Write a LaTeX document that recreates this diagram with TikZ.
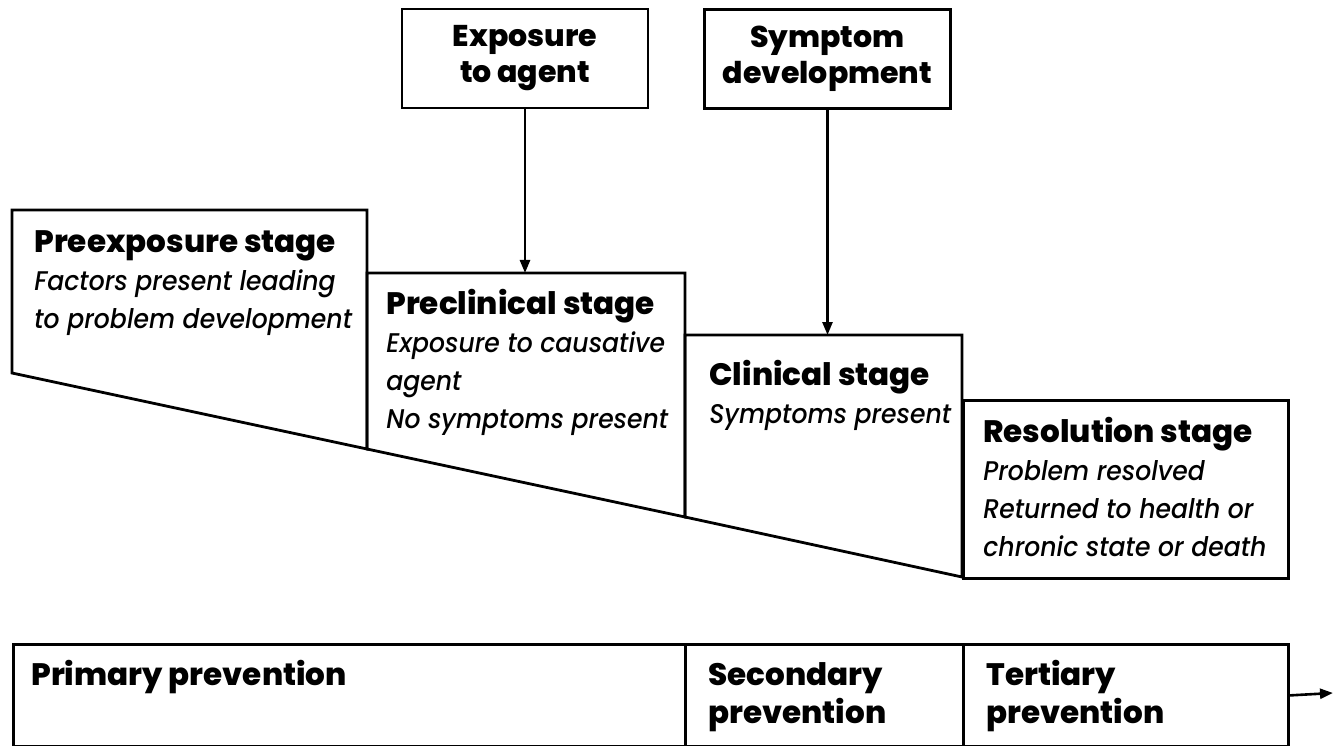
\documentclass[tikz,border=0pt]{standalone}
\usepackage{fontspec}
\setmainfont{Poppins}[BoldFont={Poppins ExtraBold},ItalicFont={Poppins Medium Italic},ItalicFeatures={FakeStretch=0.93}]
\usetikzlibrary{arrows.meta}
\newcommand{\mylines}[2][l]{\begin{tabular}[t]{@{}#1@{}}#2\end{tabular}}
\newcommand{\bld}[1]{{\fontsize{31}{38}\selectfont\bfseries #1}}
\newcommand{\itl}[1]{{\fontsize{27}{38}\selectfont\itshape #1}}
\begin{document}
\begin{tikzpicture}[x=1pt,y=-1pt,line width=2.8pt,
  box/.style={draw,line width=2.8pt,inner sep=0pt},
  topbox/.style={box,minimum width=246pt,minimum height=99pt,align=center,
     font=\bfseries\fontsize{30}{36}\selectfont},
  lbl/.style={anchor=base west,inner sep=0pt,font=\fontsize{28}{38}\selectfont},
  arr/.style={-{Triangle[length=13pt,width=10pt]},line width=2.6pt}]
\useasboundingbox (0,0) rectangle (1334,746);
% top boxes
\node[topbox] (expo) at (525,58.5) {Exposure\\to agent};
\node[topbox] (symp) at (827.5,59) {Symptom\\development};
% diagonal points
\coordinate (d0) at (12,373);
\coordinate (d1) at (367,449);
\coordinate (d2) at (685,517);
\coordinate (d3) at (962,577);
% stage shapes
\draw (d0) -- (12,210) -- (367,210) -- (d1) -- cycle;
\draw (d1) -- (367,273) -- (685,273) -- (d2) -- cycle;
\draw (d2) -- (685,335) -- (962,335) -- (d3) -- cycle;
\node[box,anchor=north west,minimum width=325pt,minimum height=178pt] (reso) at (962,399) {};
% arrow targets
\coordinate (pretop) at (525,273);
\coordinate (clintop) at (827.5,335);
\draw[arr] (expo.south) -- (pretop);
\draw[arr] (symp.south) -- (clintop);
% stage texts
\node[lbl] (tpre) at (33,253) {\mylines{\bld{Preexposure stage}\\\itl{Factors present leading}\\\itl{to problem development}}};
\node[lbl] (tprecl) at (385,315) {\mylines{\bld{Preclinical stage}\\\itl{Exposure to causative}\\\itl{agent}\\\itl{No symptoms present}}};
\node[lbl] (tclin) at (708,385) {\mylines{\bld{Clinical stage}\\\itl{Symptoms present}}};
\node[lbl] (treso) at (982,442) {\mylines{\bld{Resolution stage}\\\itl{Problem resolved}\\\itl{Returned to health or}\\\itl{chronic state or death}}};
% prevention row
\node[box,anchor=north west,minimum width=672pt,minimum height=102pt] (prim) at (12,643) {};
\node[box,anchor=north west,minimum width=278pt,minimum height=102pt] (sec) at (684,643) {};
\node[box,anchor=north west,minimum width=325pt,minimum height=102pt] (tert) at (962,643) {};
\coordinate (tipend) at (1333,693);
\draw[arr] (tert.east) -- (tipend);
\node[lbl] (tprim) at (30,685) {\bld{Primary prevention}};
\node[lbl] (tsec) at (707,685) {\mylines{\bld{Secondary}\\\bld{prevention}}};
\node[lbl] (tter) at (985,685) {\mylines{\bld{Tertiary}\\\bld{prevention}}};
\end{tikzpicture}
\end{document}
